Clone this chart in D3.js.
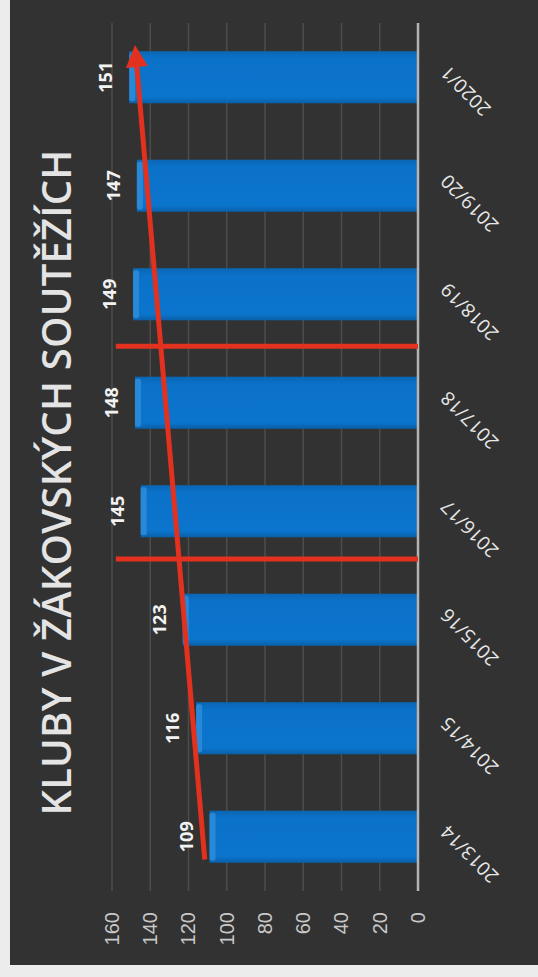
<!DOCTYPE html>
<html>
<head>
<meta charset="utf-8">
<script src="https://cdn.jsdelivr.net/npm/d3@7"></script>
<style>
    body { margin: 0; background: #ececec; }
    svg { display: block; }
</style>
</head>
<body>
<svg id="svg"></svg>
<script>
'use strict';

// ================================= data ======================================
var seasons = ["2013/14", "2014/15", "2015/16", "2016/17", "2017/18", "2018/19", "2019/20", "2020/1"];
var clubs = [109, 116, 123, 145, 148, 149, 147, 151];
var yTicks = [0, 20, 40, 60, 80, 100, 120, 140, 160];
var title = "KLUBY V ŽÁKOVSKÝCH SOUTĚŽÍCH";

// trend arrow, [category index, value]
var trendStart = [-0.21, 111.5];
var trendEnd = [7.3, 148];
// red split lines, between seasons (category index)
var splitAt = [2.56, 4.52];
var splitTop = 158;

// ================================= layout ======================================
var width = 538;
var height = 977;
// the slide was photographed turned a quarter to the left
var slideW = 965;
var slideH = 528;

var svg = d3.select("#svg")
    .attr("width", width)
    .attr("height", height);

svg.append("rect")
    .attr("width", width)
    .attr("height", height)
    .attr("fill", "#ececec");

var slide = svg.append("g")
    .attr("transform", "translate(10," + slideW + ") rotate(-90)");

slide.append("rect")
    .attr("width", slideW)
    .attr("height", slideH)
    .attr("fill", "#323232");

var x = d3.scaleBand()
    .domain(seasons)
    .range([74, 942])
    .paddingInner(0.52)
    .paddingOuter(0.26);

var y = d3.scaleLinear()
    .domain([0, 160])
    .range([408, 102]);

// category index -> slide x (band centre)
function xi(i) {
    return x(seasons[0]) + x.bandwidth() / 2 + i * x.step();
}

var defs = svg.append("defs");
var grad = defs.append("linearGradient")
    .attr("id", "barGrad")
    .attr("x1", 0).attr("x2", 1).attr("y1", 0).attr("y2", 0);
grad.append("stop").attr("offset", "0%").attr("stop-color", "#0a5fa8");
grad.append("stop").attr("offset", "12%").attr("stop-color", "#0b74cc");
grad.append("stop").attr("offset", "85%").attr("stop-color", "#0b72c9");
grad.append("stop").attr("offset", "100%").attr("stop-color", "#0a66b4");

// ================================= title ======================================
var titleText = slide.append("text")
    .attr("x", slideW / 2)
    .attr("y", 61)
    .attr("text-anchor", "middle")
    .attr("font-family", "'Open Sans', sans-serif")
    .attr("font-weight", 600)
    .attr("font-size", 40)
    .attr("fill", "#e4e4e4")
    .text(title);
var tl = titleText.node().getComputedTextLength();
if (tl < 666) {
    titleText.attr("letter-spacing", (666 - tl) / (title.length - 1));
} else {
    titleText.attr("textLength", 666).attr("lengthAdjust", "spacingAndGlyphs");
}

// ================================= grid + axes ======================================
slide.append("g")
    .selectAll("line")
    .data(yTicks.filter(d => d > 0))
    .join("line")
    .attr("x1", 74)
    .attr("x2", 942)
    .attr("y1", d => y(d))
    .attr("y2", d => y(d))
    .attr("stroke", "#4c4c4c")
    .attr("stroke-width", 1.5);

var yAxis = slide.append("g")
    .attr("transform", "translate(53,0)")
    .call(d3.axisLeft(y).tickValues(yTicks).tickSize(0).tickPadding(0));
yAxis.select(".domain").remove();
yAxis.selectAll("text")
    .attr("font-family", "'Liberation Sans', Arial, sans-serif")
    .attr("font-size", 20)
    .attr("fill", "#c8c8c8");

// ================================= bars ======================================
var bars = slide.append("g")
    .selectAll("g")
    .data(seasons)
    .join("g");

bars.append("rect")
    .attr("x", d => x(d))
    .attr("width", x.bandwidth())
    .attr("y", (d, i) => y(clubs[i]))
    .attr("height", (d, i) => y(0) - y(clubs[i]))
    .attr("fill", "url(#barGrad)");

// bevel on the top of each bar
bars.append("rect")
    .attr("x", d => x(d) + 2)
    .attr("width", x.bandwidth() - 4)
    .attr("y", (d, i) => y(clubs[i]))
    .attr("height", 6)
    .attr("rx", 2)
    .attr("fill", "#2f8fdc")
    .attr("opacity", 0.8);

slide.append("line")
    .attr("x1", 74)
    .attr("x2", 942)
    .attr("y1", y(0))
    .attr("y2", y(0))
    .attr("stroke", "#b4b4b4")
    .attr("stroke-width", 2.5);

// value labels
slide.append("g")
    .selectAll("text")
    .data(seasons)
    .join("text")
    .attr("x", d => x(d) + x.bandwidth() / 2)
    .attr("y", (d, i) => y(clubs[i]) - 17)
    .attr("text-anchor", "middle")
    .attr("font-family", "'Open Sans', sans-serif")
    .attr("font-weight", 700)
    .attr("font-size", 18)
    .attr("fill", "#f2f2f2")
    .text((d, i) => clubs[i]);

// season labels
var xAxis = slide.append("g")
    .attr("transform", "translate(0," + y(0) + ")")
    .call(d3.axisBottom(x).tickSize(0).tickPadding(0));
xAxis.select(".domain").remove();
xAxis.selectAll("text")
    .attr("text-anchor", "end")
    .attr("transform", "translate(8,26) rotate(-45)")
    .attr("dy", "0.35em")
    .attr("font-family", "'Open Sans', sans-serif")
    .attr("font-size", 19)
    .attr("fill", "#e8e8e8");

// ================================= red marks ======================================
var red = "#e2321f";

slide.append("g")
    .selectAll("line")
    .data(splitAt)
    .join("line")
    .attr("x1", d => xi(d))
    .attr("x2", d => xi(d))
    .attr("y1", y(0))
    .attr("y2", y(splitTop))
    .attr("stroke", red)
    .attr("stroke-width", 5);

defs.append("marker")
    .attr("id", "arrow")
    .attr("viewBox", "0 0 10 10")
    .attr("refX", 2)
    .attr("refY", 5)
    .attr("markerWidth", 4.6)
    .attr("markerHeight", 4.4)
    .attr("markerUnits", "strokeWidth")
    .attr("orient", "auto")
    .append("path")
    .attr("d", "M0,0 L10,5 L0,10 Z")
    .attr("fill", red);

var tx1 = xi(trendStart[0]), ty1 = y(trendStart[1]);
var tx2 = xi(trendEnd[0]), ty2 = y(trendEnd[1]);
var ang = Math.atan2(ty2 - ty1, tx2 - tx1);
var headLen = 18;
slide.append("line")
    .attr("x1", tx1)
    .attr("y1", ty1)
    .attr("x2", tx2 - Math.cos(ang) * headLen)
    .attr("y2", ty2 - Math.sin(ang) * headLen)
    .attr("stroke", red)
    .attr("stroke-width", 5)
    .attr("marker-end", "url(#arrow)");
</script>
</body>
</html>
